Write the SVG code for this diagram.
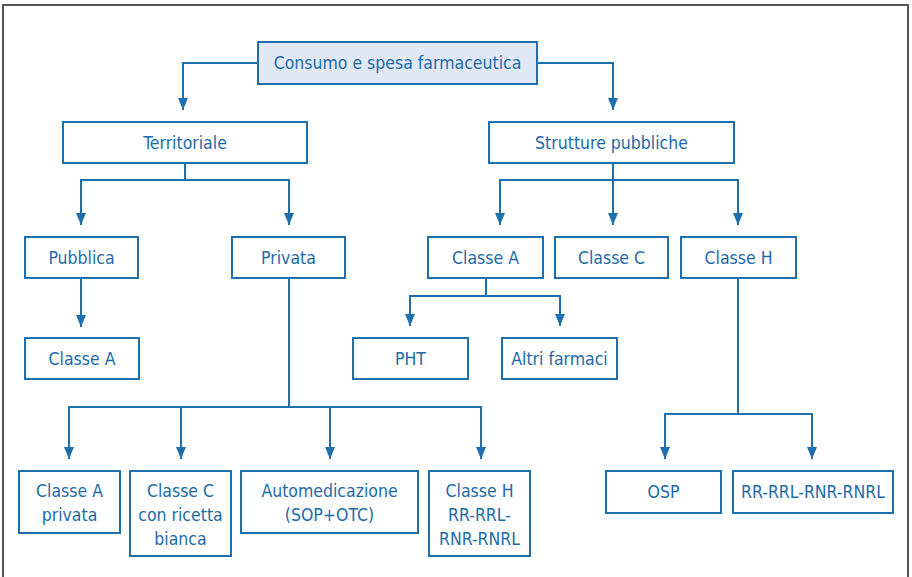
<svg xmlns="http://www.w3.org/2000/svg" width="912" height="577" viewBox="0 0 912 577">
<style>
.b{fill:#fff;stroke:#1d6fad;stroke-width:2}
.t{fill:#1d6aa8;font-family:"Liberation Sans Narrow","DejaVu Sans Condensed","Liberation Sans",sans-serif;font-size:17.5px;text-anchor:middle;dominant-baseline:central}
.c{fill:none;stroke:#1d6fad;stroke-width:2}
</style>
<defs>
<marker id="ah" markerWidth="12" markerHeight="10" refX="12" refY="5" orient="auto" markerUnits="userSpaceOnUse" viewBox="0 0 12 10">
<path d="M0,0 L12,5 L0,10 Z" fill="#1d6fad"/>
</marker>
</defs>
<rect width="912" height="577" fill="#fff"/>
<rect x="3" y="5" width="905" height="590" fill="none" stroke="#555" stroke-width="2"/>
<g id="connectors">
<path class="c" d="M258,63 H183 V110" marker-end="url(#ah)"/>
<path class="c" d="M537,63 H613 V110" marker-end="url(#ah)"/>
<path class="c" d="M185,163 V180"/>
<path class="c" d="M81,225 V180 H289 V225" />
<path class="c" d="M81,213 V225" marker-end="url(#ah)"/>
<path class="c" d="M289,213 V225" marker-end="url(#ah)"/>
<path class="c" d="M81,278 V327" marker-end="url(#ah)"/>
<path class="c" d="M289,278 V407"/>
<path class="c" d="M69,459 V407 H481 V459"/>
<path class="c" d="M69,450 V459" marker-end="url(#ah)"/>
<path class="c" d="M481,450 V459" marker-end="url(#ah)"/>
<path class="c" d="M181,407 V459" marker-end="url(#ah)"/>
<path class="c" d="M330,407 V459" marker-end="url(#ah)"/>
<path class="c" d="M613,163 V225" marker-end="url(#ah)"/>
<path class="c" d="M500,225 V180 H738 V225"/>
<path class="c" d="M500,213 V225" marker-end="url(#ah)"/>
<path class="c" d="M738,213 V225" marker-end="url(#ah)"/>
<path class="c" d="M486,278 V296"/>
<path class="c" d="M410,326 V296 H560 V326"/>
<path class="c" d="M410,314 V326" marker-end="url(#ah)"/>
<path class="c" d="M560,314 V326" marker-end="url(#ah)"/>
<path class="c" d="M738,278 V414"/>
<path class="c" d="M665,459 V414 H812 V459"/>
<path class="c" d="M665,447 V459" marker-end="url(#ah)"/>
<path class="c" d="M812,447 V459" marker-end="url(#ah)"/>
</g>
<g id="n-root"><rect x="258" y="42" width="279" height="42" fill="#dfe8f4" stroke="#1d6fad" stroke-width="2"/><text class="t" x="397.5" y="63">Consumo e spesa farmaceutica</text></g>
<g id="n-territoriale"><rect class="b" x="63" y="122" width="244" height="41"/><text class="t" x="185" y="142.5">Territoriale</text></g>
<g id="n-strutture"><rect class="b" x="489" y="122" width="245" height="41"/><text class="t" x="611.5" y="142.5">Strutture pubbliche</text></g>
<g id="n-pubblica"><rect class="b" x="25" y="237" width="113" height="41"/><text class="t" x="81.5" y="257.5">Pubblica</text></g>
<g id="n-privata"><rect class="b" x="232" y="237" width="113" height="41"/><text class="t" x="288.5" y="257.5">Privata</text></g>
<g id="n-classeA-pub"><rect class="b" x="25" y="338" width="114" height="41"/><text class="t" x="82" y="358.5">Classe A</text></g>
<g id="n-classeA-sp"><rect class="b" x="428" y="237" width="115" height="41"/><text class="t" x="485.5" y="257.5">Classe A</text></g>
<g id="n-classeC-sp"><rect class="b" x="555" y="237" width="113" height="41"/><text class="t" x="611.5" y="257.5">Classe C</text></g>
<g id="n-classeH-sp"><rect class="b" x="681" y="237" width="115" height="41"/><text class="t" x="738.5" y="257.5">Classe H</text></g>
<g id="n-pht"><rect class="b" x="353" y="338" width="115" height="41"/><text class="t" x="410.5" y="358.5">PHT</text></g>
<g id="n-altri"><rect class="b" x="502" y="338" width="115" height="41"/><text class="t" x="559.5" y="358.5">Altri farmaci</text></g>
<g id="n-classeA-priv"><rect class="b" x="19" y="471" width="101" height="62"/><text class="t" x="69.5" y="491">Classe A</text><text class="t" x="69.5" y="515">privata</text></g>
<g id="n-classeC-priv"><rect class="b" x="130" y="471" width="101" height="85"/><text class="t" x="180.5" y="491">Classe C</text><text class="t" x="180.5" y="515">con ricetta</text><text class="t" x="180.5" y="539">bianca</text></g>
<g id="n-automed"><rect class="b" x="241" y="471" width="177" height="62"/><text class="t" x="329.5" y="491">Automedicazione</text><text class="t" x="329.5" y="515">(SOP+OTC)</text></g>
<g id="n-classeH-priv"><rect class="b" x="429" y="471" width="101" height="85"/><text class="t" x="479.5" y="491">Classe H</text><text class="t" x="479.5" y="515">RR-RRL-</text><text class="t" x="479.5" y="539">RNR-RNRL</text></g>
<g id="n-osp"><rect class="b" x="606" y="471" width="115" height="42"/><text class="t" x="663.5" y="492">OSP</text></g>
<g id="n-rr"><rect class="b" x="733" y="471" width="160" height="42"/><text class="t" x="813" y="492">RR-RRL-RNR-RNRL</text></g>
</svg>
